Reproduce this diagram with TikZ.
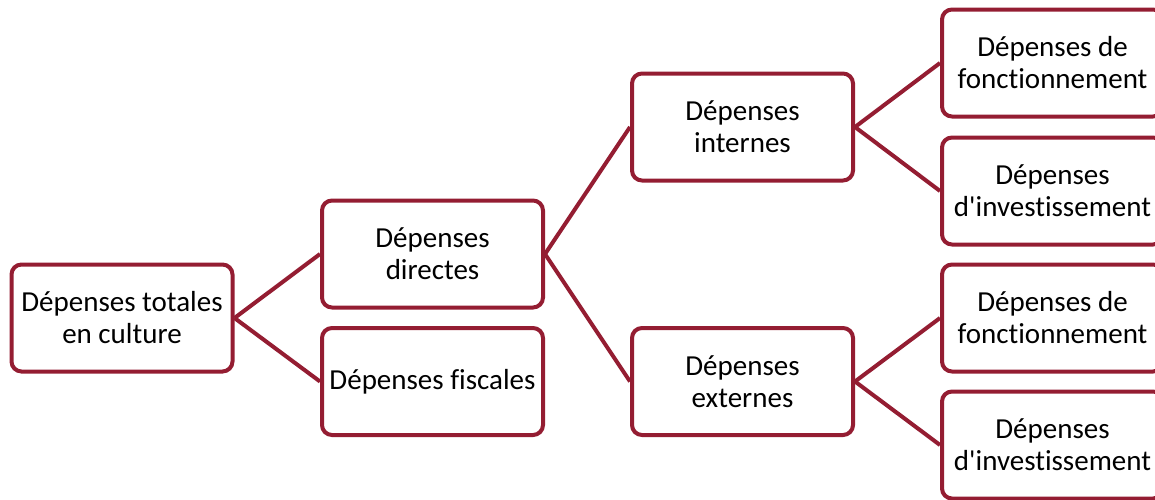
\documentclass[tikz,border=0pt]{standalone}
\usepackage{fontspec}
\setmainfont{Carlito}[Ligatures={TeXOff,CommonOff}]
\definecolor{dred}{RGB}{148,29,50}
\begin{document}
\begin{tikzpicture}[x=1pt,y=-1pt,
  box/.style={draw=dred, line width=4pt, rounded corners=10pt, minimum width=221pt, minimum height=107pt, align=center, font=\fontsize{29}{32}\selectfont, inner sep=0pt},
  link/.style={draw=dred, line width=4pt}]
\useasboundingbox (0,0) rectangle (1155,499);
\node[box] (tot) at (122,318) {Dépenses totales\\en culture};
\node[box] (dir) at (432.5,254) {Dépenses\\directes};
\node[box] (fis) at (432.5,381.5) {Dépenses fiscales};
\node[box] (int) at (742.5,127) {Dépenses\\internes};
\node[box] (ext) at (742.5,381.5) {Dépenses\\externes};
\node[box] (f1) at (1052.5,63) {Dépenses de\\fonctionnement};
\node[box] (i1) at (1052.5,191) {Dépenses\\d'investissement};
\node[box] (f2) at (1052.5,318) {Dépenses de\\fonctionnement};
\node[box] (i2) at (1052.5,445) {Dépenses\\d'investissement};
\draw[link] (tot.east) -- (dir.west);
\draw[link] (tot.east) -- (fis.west);
\draw[link] (dir.east) -- (int.west);
\draw[link] (dir.east) -- (ext.west);
\draw[link] (int.east) -- (f1.west);
\draw[link] (int.east) -- (i1.west);
\draw[link] (ext.east) -- (f2.west);
\draw[link] (ext.east) -- (i2.west);
\end{tikzpicture}
\end{document}
